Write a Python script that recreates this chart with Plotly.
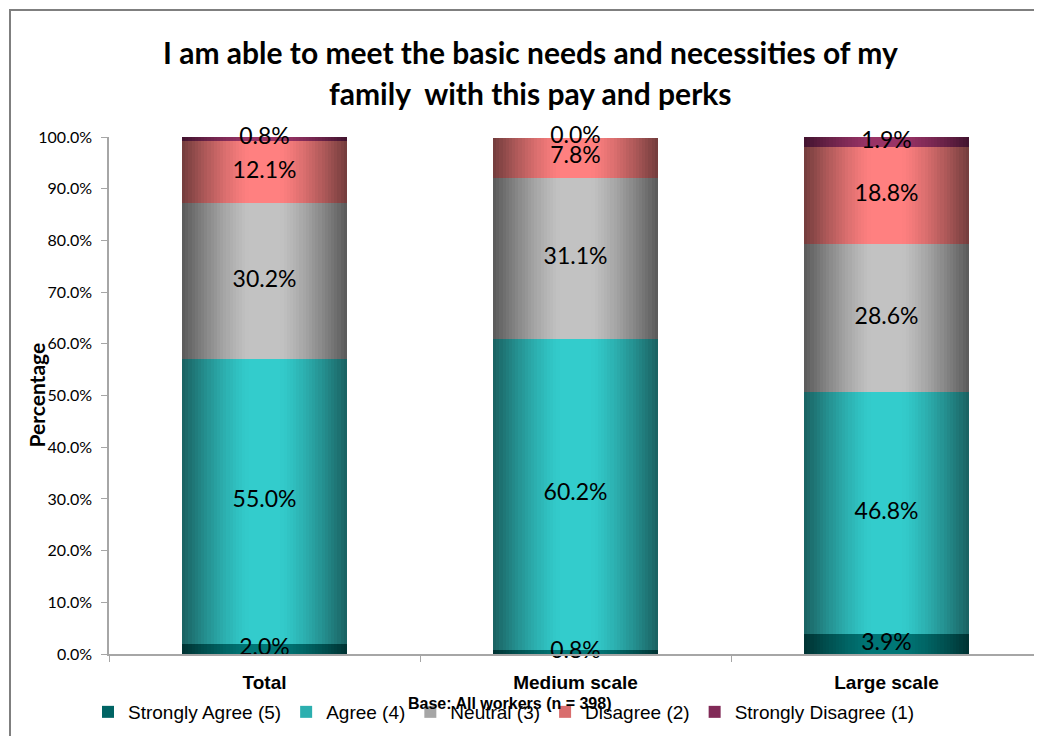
import numpy as np
import plotly.graph_objects as go

categories = ["Total", "Medium scale", "Large scale"]
series_names = ["Strongly Agree (5)", "Agree (4)", "Neutral (3)", "Disagree (2)", "Strongly Disagree (1)"]
strongly_agree = [2.0, 0.8, 3.9]
agree = [55.0, 60.2, 46.8]
neutral = [30.2, 31.1, 28.6]
disagree = [12.1, 7.8, 18.8]
strongly_disagree = [0.8, 0.0, 1.9]
y_ticks = [0, 10, 20, 30, 40, 50, 60, 70, 80, 90, 100]
title_lines = ["I am able to meet the basic needs and necessities of my",
               "family  with this pay and perks"]

series_values = [strongly_agree, agree, neutral, disagree, strongly_disagree]
# (edge colour, centre colour) for the cylinder-like horizontal gradient
series_colors = [
    ((0, 52, 52), (0, 118, 118)),
    ((26, 100, 100), (51, 204, 204)),
    ((92, 92, 92), (194, 194, 194)),
    ((118, 62, 62), (255, 128, 128)),
    ((68, 20, 48), (153, 51, 102)),
]

BAR_W = 0.53
STEPS = 26

narrow = "Liberation Sans Narrow, Arial Narrow, Liberation Sans, Arial, sans-serif"
calib = "Lato, Open Sans, sans-serif"

# page offset (body margin) and plot area in screen pixels
OFF = 8
W, H = 1042 - OFF, 736 - OFF
L, R, T, B = 109, 1042, 137, 654
PW, PH = R - L, B - T


def px_x(p):
    return (p - L) / PW


def px_y(p):
    return (B - p) / PH


fig = go.Figure()

bottom = np.zeros(len(categories))
label_x, label_y, label_t = [], [], []
for name, vals, (edge, centre) in zip(series_names, series_values, series_colors):
    vals = np.array(vals, dtype=float)
    for k in range(STEPS):
        d = 1 - k / STEPS  # normalised distance from centre
        f = min(1.0, max(0.0, (d - 0.2) / 0.8)) ** 1.3
        col = tuple(int(round(c + (e - c) * f)) for e, c in zip(edge, centre))
        fig.add_trace(go.Bar(
            x=categories, y=vals, base=bottom.copy(),
            width=BAR_W * d,
            marker=dict(color="rgb(%d,%d,%d)" % col, line=dict(width=0)),
            name=name, legendgroup=name,
            showlegend=(k == STEPS // 2),
            hoverinfo="skip",
        ))
    for c, v, b in zip(categories, vals, bottom):
        label_x.append(c)
        label_y.append(b + v / 2)
        label_t.append("%.1f%%" % v)
    bottom = bottom + vals

fig.add_trace(go.Scatter(
    x=label_x, y=label_y, text=label_t, mode="text",
    textposition="middle center",
    textfont=dict(family=calib, size=23, color="black"),
    showlegend=False, cliponaxis=False, hoverinfo="skip",
))

fig.update_layout(
    width=W, height=H,
    margin=dict(l=L - OFF, r=0, t=T - OFF, b=(736 - B), autoexpand=False),
    paper_bgcolor="white", plot_bgcolor="white",
    barmode="overlay", bargap=0,
    showlegend=True,
    legend=dict(
        orientation="h", x=px_x(88), xanchor="left", y=px_y(712), yanchor="middle",
        font=dict(family=narrow, size=19, color="black"),
        itemwidth=30, traceorder="normal", bgcolor="rgba(0,0,0,0)",
    ),
    font=dict(family=calib, color="black"),
)

fig.update_xaxes(
    type="category", categoryorder="array", categoryarray=categories,
    showline=True, linecolor="#a6a6a6", linewidth=1.5,
    ticks="outside", tickson="boundaries", ticklen=6, tickcolor="#a6a6a6",
    showgrid=False, zeroline=False,
    tickfont=dict(family=narrow, size=19, color="black", weight="bold"),
    ticklabelstandoff=10,
)
fig.update_yaxes(
    range=[0, 100], tickvals=y_ticks, ticktext=["%.1f%%" % t for t in y_ticks],
    showline=True, linecolor="#a6a6a6", linewidth=1.5,
    ticks="outside", ticklen=6, tickcolor="#a6a6a6",
    showgrid=False, zeroline=False,
    tickfont=dict(family=calib, size=16, color="black"),
    ticklabelstandoff=6,
)

for line, yc in zip(title_lines, [52, 93]):
    fig.add_annotation(
        text=line, xref="paper", yref="paper",
        x=px_x(530), y=px_y(yc), xanchor="center", yanchor="middle",
        showarrow=False, font=dict(family=calib, size=30, color="black", weight="bold"),
    )
fig.add_annotation(
    text="Percentage", textangle=-90, xref="paper", yref="paper",
    x=px_x(36), y=0.5, xanchor="center", yanchor="middle",
    showarrow=False, font=dict(family=calib, size=21, color="black", weight="bold"),
)
fig.add_annotation(
    text="Base: All workers (n = 398)", xref="paper", yref="paper",
    x=px_x(510), y=px_y(703), xanchor="center", yanchor="middle",
    showarrow=False, font=dict(family=narrow, size=16, color="black", weight="bold"),
)
fig.add_shape(
    type="rect", xref="paper", yref="paper",
    x0=px_x(10), x1=1.05, y0=-0.3, y1=px_y(10),
    line=dict(color="#7f7f7f", width=2), fillcolor="rgba(0,0,0,0)", layer="below",
)

fig.write_html("out.html")
